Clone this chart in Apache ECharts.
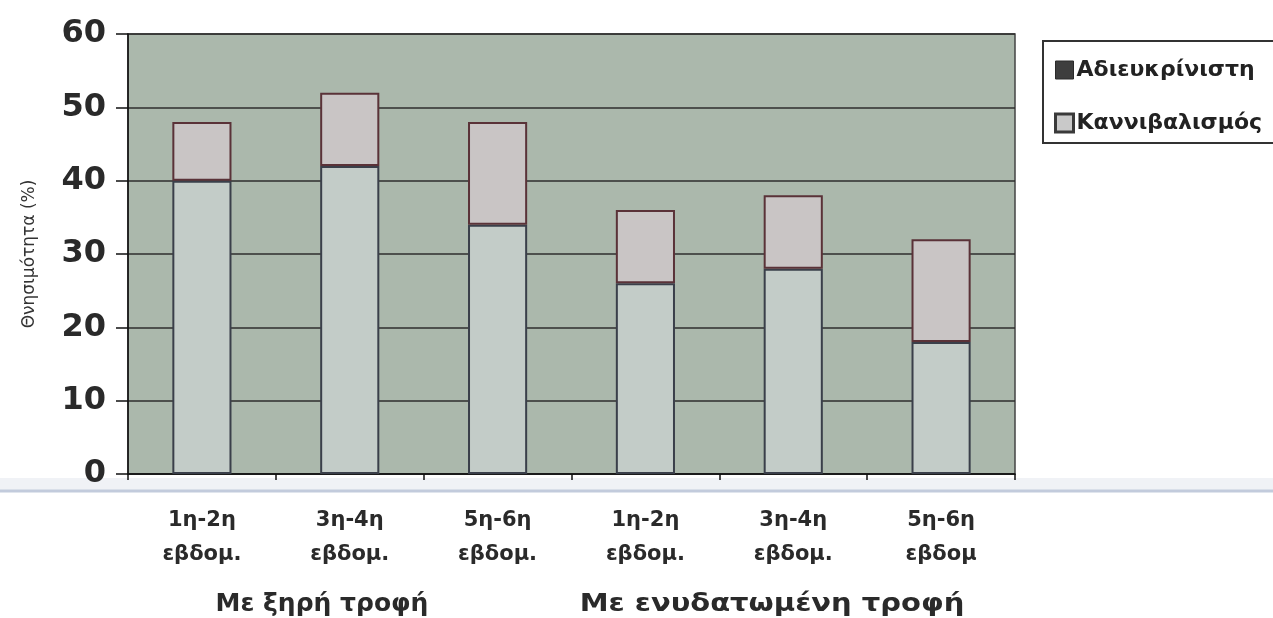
<!DOCTYPE html>
<html>
<head>
<meta charset="utf-8">
<script src="https://cdn.jsdelivr.net/npm/echarts@6/dist/echarts.min.js"></script>
<style>
  html, body { margin: 0; padding: 0; background: #ffffff; }
  #chart { width: 1273px; height: 618px; }
</style>
</head>
<body>
<div id="chart"></div>
<script>
// Weekly periods, two feeding groups of three
const categories = ['1η-2η\nεβδομ.', '3η-4η\nεβδομ.', '5η-6η\nεβδομ.', '1η-2η\nεβδομ.', '3η-4η\nεβδομ.', '5η-6η\nεβδομ'];
const groupLabels = ['Με ξηρή τροφή', 'Με ενυδατωμένη τροφή'];
const seriesNames = ['Αδιευκρίνιστη', 'Καννιβαλισμός'];
// Mortality (%) by cause, stacked
const cannibalism = [40, 42, 34, 26, 28, 18];
const unspecified = [8, 10, 14, 10, 10, 14];
const yTicks = [0, 10, 20, 30, 40, 50, 60];

const FONT = '"DejaVu Sans", Verdana, sans-serif';
const chart = echarts.init(document.getElementById('chart'));
const gridLeft = 128, gridRight = 258, gridTop = 34, gridBottom = 144;

chart.setOption({
  backgroundColor: '#ffffff',
  animation: false,
  textStyle: { fontFamily: FONT },
  grid: {
    left: gridLeft, right: gridRight, top: gridTop, bottom: gridBottom,
    show: true, backgroundColor: '#abb8ac', borderColor: '#444', borderWidth: 1.5
  },
  legend: {
    data: [
      { name: seriesNames[0], itemStyle: { color: '#3e3e3e', borderColor: '#2a2a2a', borderWidth: 1 } },
      { name: seriesNames[1], itemStyle: { color: '#c9c9c9', borderColor: '#3a3a3a', borderWidth: 3 } }
    ],
    orient: 'vertical',
    left: 1054, top: 59,
    padding: 0,
    itemGap: 31,
    itemWidth: 18, itemHeight: 18,
    icon: 'rect',
    textStyle: { fontFamily: FONT, fontWeight: 'bold', fontSize: 22, color: '#222', padding: [0, 0, 0, -2] }
  },
  xAxis: {
    type: 'category',
    data: categories,
    axisLine: { lineStyle: { color: '#111', width: 1.5 } },
    axisTick: { show: true, length: 6, lineStyle: { color: '#111', width: 1.5 } },
    axisLabel: {
      margin: 30, fontSize: 21, fontWeight: 'bold', color: '#2a2a2a', lineHeight: 34,
      fontFamily: FONT, interval: 0
    }
  },
  yAxis: {
    type: 'value',
    min: yTicks[0], max: yTicks[yTicks.length - 1], interval: 10,
    name: 'Θνησιμότητα (%)',
    nameLocation: 'middle',
    nameGap: 90,
    nameRotate: 90,
    nameTextStyle: { fontSize: 17, color: '#333', fontFamily: FONT },
    axisLine: { show: true, lineStyle: { color: '#111', width: 1.5 } },
    axisTick: { show: true, inside: false, length: 12, lineStyle: { color: '#111', width: 1.5 } },
    axisLabel: { margin: 22, fontSize: 32, fontWeight: 'bold', color: '#2a2a2a', fontFamily: FONT },
    splitLine: { show: true, lineStyle: { color: '#2e2e2e', width: 1.5 } }
  },
  series: [
    {
      name: seriesNames[1],
      type: 'bar',
      stack: 'total',
      barWidth: '40%',
      data: cannibalism,
      itemStyle: { color: '#c3ccc8', borderColor: '#3a3f4a', borderWidth: 2 }
    },
    {
      name: seriesNames[0],
      type: 'bar',
      stack: 'total',
      barWidth: '40%',
      data: unspecified,
      itemStyle: { color: '#c9c5c5', borderColor: '#5a3238', borderWidth: 2 }
    }
  ],
  graphic: [
    // legend frame, running off the right edge
    { type: 'rect', silent: true, shape: { x: 1043, y: 41, width: 250, height: 102 }, style: { fill: 'none', stroke: '#333', lineWidth: 2 } },
    // faint band under the axis
    { type: 'rect', silent: true, z: -1, shape: { x: 0, y: 478, width: 1273, height: 12 }, style: { fill: '#f0f2f6' } },
    { type: 'line', silent: true, z: -1, shape: { x1: 0, y1: 491, x2: 1273, y2: 491 }, style: { stroke: '#c2cbdc', lineWidth: 3 } },
    // group captions under the category labels
    { type: 'text', x: 322, y: 604, style: { text: groupLabels[0], font: 'bold 25px ' + FONT, fill: '#2a2a2a', align: 'center', verticalAlign: 'middle' } },
    { type: 'text', x: 772, y: 604, scaleX: 1.16, style: { text: groupLabels[1], font: 'bold 25px ' + FONT, fill: '#2a2a2a', align: 'center', verticalAlign: 'middle' } }
  ]
});
</script>
</body>
</html>
